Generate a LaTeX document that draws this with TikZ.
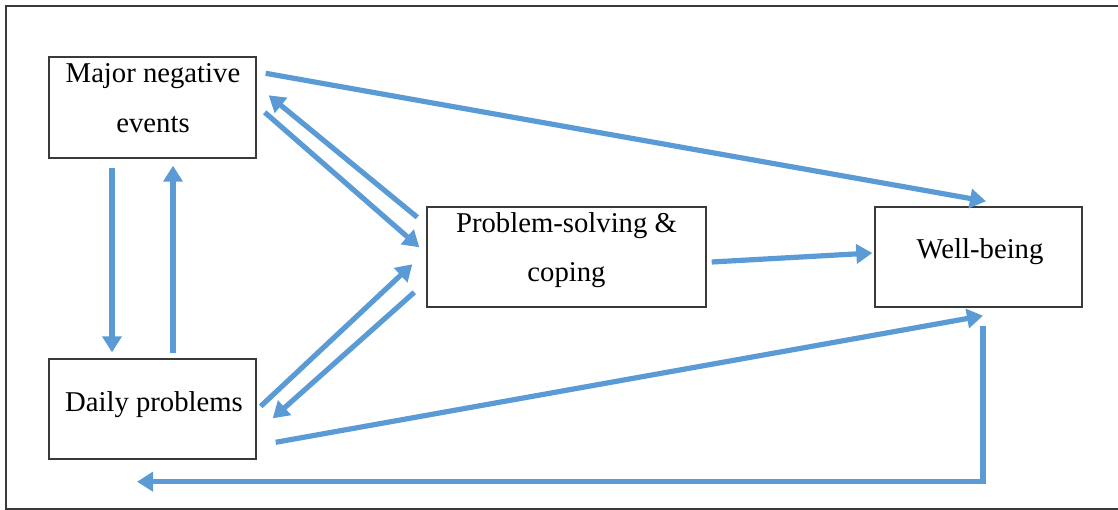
\documentclass[tikz,border=0pt]{standalone}
\usepackage{fontspec}
\setmainfont{Liberation Serif}
\usetikzlibrary{arrows.meta}
\definecolor{arrowblue}{HTML}{5B9BD5}
\definecolor{frameg}{HTML}{3A3A3A}
\begin{document}
\begin{tikzpicture}[x=1pt,y=-1pt,
  box/.style={draw=frameg,line width=1.4pt,rectangle,inner sep=0pt},
  lbl/.style={anchor=base,inner sep=0pt,font=\fontsize{28.7}{34}\selectfont,text=black},
  conn/.style={draw=arrowblue,line width=5.2pt,-{Triangle[width=19pt,length=16pt]}}]
\useasboundingbox (0,0) rectangle (1118,510);
\draw[frameg,line width=2pt] (1130,6) -- (6,6) -- (6,509) -- (1130,509);
% boxes
\node[box,minimum width=207pt,minimum height=101pt] (mne) at (152.5,107.5) {};
\node[box,minimum width=207pt,minimum height=100pt] (dp) at (152.5,409) {};
\node[box,minimum width=279pt,minimum height=100pt] (ps) at (566.5,257) {};
\node[box,minimum width=207pt,minimum height=100pt] (wb) at (978.5,257) {};
% labels
\node[lbl] (mneA) at (153,83) {Major negative};
\node[lbl] (mneB) at (153,133) {events};
\node[lbl] (psA) at (566.5,233) {Problem-solving \&};
\node[lbl] (psB) at (566.5,282) {coping};
\node[lbl] (dpA) at (154,411) {Daily problems};
\node[lbl] (wbA) at (980,259) {Well-being};
% connectors
\draw[conn] ([xshift=9pt,yshift=-17pt]mne.north east) -- ([xshift=7.5pt,yshift=5pt]wb.north);
\draw[conn] ([xshift=-9pt,yshift=-11pt]ps.north west) -- ([xshift=12pt,yshift=-39pt]mne.north east);
\draw[conn] ([xshift=8pt,yshift=-56pt]mne.north east) -- ([xshift=-7pt,yshift=-41pt]ps.north west);
\draw[conn] ([xshift=4pt,yshift=-48pt]dp.north east) -- ([xshift=-14pt,yshift=-58pt]ps.north west);
\draw[conn] ([xshift=-12pt,yshift=-86pt]ps.north west) -- ([xshift=16pt,yshift=-60pt]dp.north east);
\draw[conn] ([xshift=19pt,yshift=-84pt]dp.north east) -- ([xshift=4.5pt,yshift=-8pt]wb.south);
\draw[conn] ([xshift=5pt,yshift=-5pt]ps.east) -- ([xshift=-2pt,yshift=4pt]wb.west);
\draw[conn] ([xshift=-40.5pt,yshift=-9pt]mne.south) -- ([xshift=-40.5pt,yshift=6pt]dp.north);
\draw[conn] ([xshift=20.5pt,yshift=5pt]dp.north) -- ([xshift=20.5pt,yshift=-7pt]mne.south);
\coordinate (fbS) at ([xshift=4.5pt,yshift=-18pt]wb.south);
\coordinate (fbE) at ([xshift=-15.5pt,yshift=-22pt]dp.south);
\draw[conn,line join=miter] (fbS) |- (fbE);
\end{tikzpicture}
\end{document}
